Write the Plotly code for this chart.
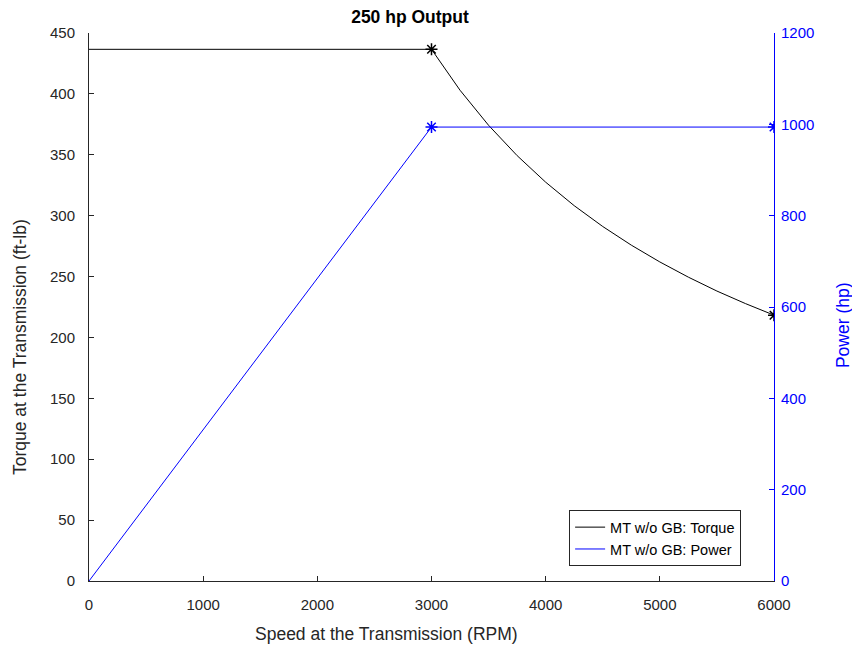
import plotly.graph_objects as go

# Data
speed_flat = [0, 3000]
torque_flat = [436.6, 436.6]
speed_curve = [3000, 3250, 3500, 3750, 4000, 4250, 4500, 4750, 5000, 5250, 5500, 5750, 6000]
torque_curve = [436.6, 403.0, 374.2, 349.3, 327.5, 308.2, 291.1, 275.8, 262.0, 249.5, 238.1, 227.8, 218.3]
speed_power = [0, 3000, 6000]
power = [0, 994, 994]
torque_marker_x = [3000, 6000]
torque_marker_y = [436.6, 218.3]
power_marker_x = [3000, 6000]
power_marker_y = [994, 994]

x_ticks = [0, 1000, 2000, 3000, 4000, 5000, 6000]
y1_ticks = [0, 50, 100, 150, 200, 250, 300, 350, 400, 450]
y2_ticks = [0, 200, 400, 600, 800, 1000, 1200]

BLUE = "#0000FF"
FONT = "Liberation Sans, Arial, sans-serif"

fig = go.Figure()
fig.add_trace(go.Scatter(x=speed_flat + speed_curve[1:], y=torque_flat + torque_curve[1:],
                         mode="lines", line=dict(color="black", width=1),
                         name="MT w/o GB: Torque"))
fig.add_trace(go.Scatter(x=speed_power, y=power, mode="lines",
                         line=dict(color=BLUE, width=1), name="MT w/o GB: Power",
                         yaxis="y2"))
fig.add_trace(go.Scatter(x=torque_marker_x, y=torque_marker_y, mode="markers",
                         marker=dict(symbol="asterisk-open", size=10, color="black",
                                     line=dict(color="black", width=1.5)),
                         showlegend=False))
fig.add_trace(go.Scatter(x=power_marker_x, y=power_marker_y, mode="markers",
                         marker=dict(symbol="asterisk-open", size=10, color=BLUE,
                                     line=dict(color=BLUE, width=1.5)),
                         showlegend=False, yaxis="y2"))

fig.update_layout(
    width=860, height=647,
    margin=dict(l=81, r=94, t=25, b=74),
    paper_bgcolor="white", plot_bgcolor="white",
    font=dict(family=FONT, size=15, color="#262626"),
    title=dict(text="<b>250 hp Output</b>", x=0.4686, xref="paper", xanchor="center",
               y=1 - 9 / 647, yanchor="middle",
               font=dict(family=FONT, size=17.5, color="black")),
    xaxis=dict(range=[0, 6000], tickvals=x_ticks, ticks="inside", ticklen=5,
               tickcolor="#262626", showline=True, linecolor="#262626", linewidth=1,
               showgrid=False, zeroline=False, ticklabelstandoff=10,
               tickfont=dict(size=15, color="#262626")),
    yaxis=dict(range=[0, 450], tickvals=y1_ticks, ticks="inside", ticklen=5,
               tickcolor="#262626", showline=True, linecolor="#262626", linewidth=1,
               showgrid=False, zeroline=False, ticklabelstandoff=10,
               tickfont=dict(size=15, color="#262626")),
    yaxis2=dict(range=[0, 1200], tickvals=y2_ticks, ticks="inside", ticklen=5,
                overlaying="y", side="right", anchor="x",
                tickcolor=BLUE, showline=True, linecolor=BLUE, linewidth=1,
                showgrid=False, zeroline=False, ticklabelstandoff=3,
                tickfont=dict(size=15, color=BLUE)),
    legend=dict(x=0.952, y=0.027, xanchor="right", yanchor="bottom",
                bgcolor="white", bordercolor="#262626", borderwidth=1,
                font=dict(size=14.5, color="black"), tracegroupgap=2),
    showlegend=True,
    annotations=[
        dict(text="Speed at the Transmission (RPM)", xref="paper", yref="paper",
             x=0.435, y=-0.0967, xanchor="center", yanchor="middle", showarrow=False,
             font=dict(size=17.5, color="#262626")),
        dict(text="Torque at the Transmission (ft-lb)", xref="paper", yref="paper",
             x=-0.1007, y=0.427, xanchor="center", yanchor="middle", showarrow=False,
             textangle=-90, font=dict(size=17.5, color="#262626")),
        dict(text="Power (hp)", xref="paper", yref="paper",
             x=1.1007, y=0.467, xanchor="center", yanchor="middle", showarrow=False,
             textangle=-90, font=dict(size=17.5, color=BLUE)),
    ],
)

fig.write_html("out.html")
